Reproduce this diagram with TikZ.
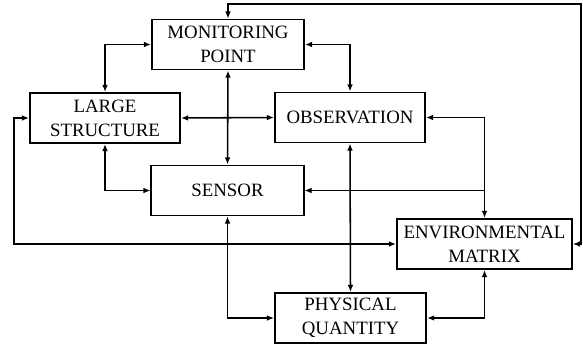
\documentclass[tikz,border=0pt]{standalone}
\usepackage{fontspec}
\setmainfont{Liberation Serif}
\usepackage{tikz}
\usetikzlibrary{arrows.meta,positioning,calc}

\begin{document}
\begin{tikzpicture}[x=0.025cm, y=-0.025cm,
          blk/.style={rectangle,draw,line width=1.4pt,minimum width=3.8cm,minimum height=1.25cm,
                      align=center,inner sep=1pt,font=\fontsize{13.4}{17}\selectfont},
          link/.style={{Latex[length=5pt,width=4pt]}-{Latex[length=5pt,width=4pt]},line width=1.1pt},
          thinlink/.style={{Latex[length=5pt,width=4pt]}-{Latex[length=5pt,width=4pt]},line width=0.75pt},
          onelink/.style={-{Latex[length=5pt,width=4pt]},line width=0.75pt}
      ]
        \useasboundingbox (0,0) rectangle (583,346);
        \node[blk]                      (mp)  at (228,  44.5) {MONITORING\\POINT};
        \node[blk,minimum width=3.75cm] (ls)  at (105,  118)  {LARGE\\STRUCTURE};
        \node[blk,minimum width=3.75cm] (obs) at (350,  117.5) {OBSERVATION};
        \node[blk]                      (sen) at (227.5,190.5) {SENSOR};
        \node[blk,minimum width=4.375cm](env) at (484.5,244)  {ENVIRONMENTAL\\MATRIX};
        \node[blk,minimum width=3.78cm] (pq)  at (350.5,318)  {PHYSICAL\\QUANTITY};
        \coordinate (tr)  at (581,4);
        \coordinate (lft) at (14,0);
        \coordinate (br)  at (env.north |- sen.east);
        \draw[link]     (ls.north) |- (mp.west);
        \draw[link]     (mp.east) -| (obs.north);
        \draw[link]     (mp.south) -- (sen.north);
        \draw[link]     (ls.east) -- (obs.west);
        \draw[link]     (ls.south) |- (sen.west);
        \draw[link]     (obs.south) -- (pq.north);
        \draw[link]     (obs.east) -| (env.north);
        \draw[onelink]  (br) -- (sen.east);
        \draw[thinlink] (sen.south) |- (pq.west);
        \draw[link]     (env.south) |- (pq.east);
        \draw[link]     (env.west) -- (env.west -| lft) |- (ls.west);
        \draw[thinlink] (mp.north) |- (tr) |- (env.east);
      \end{tikzpicture}
\end{document}
